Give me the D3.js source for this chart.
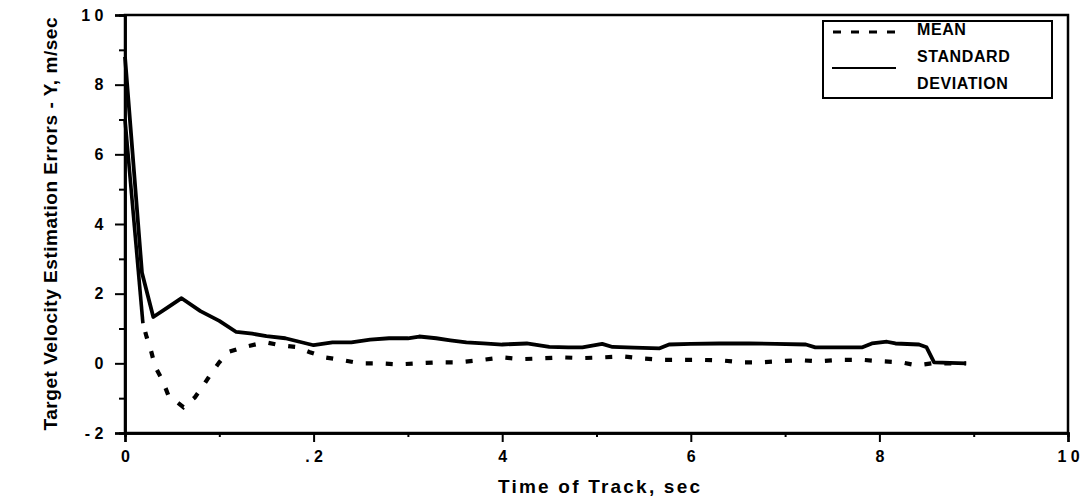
<!DOCTYPE html>
<html>
<head>
<meta charset="utf-8">
<script src="https://cdn.jsdelivr.net/npm/d3@7/dist/d3.min.js"></script>
<style>
  html, body { margin: 0; padding: 0; background: #fff; }
  svg { display: block; }
  text { font-family: "Liberation Sans", Arial, Helvetica, sans-serif; fill: #000; white-space: pre; }
</style>
</head>
<body>
<svg id="chart" width="1091" height="500"></svg>
<script>
// ---- data ----
const stdTime = [0, 0.18, 0.3, 0.45, 0.6, 0.8, 1.0, 1.18, 1.35, 1.5, 1.7, 1.85, 2.0, 2.2, 2.4, 2.6, 2.8, 3.0, 3.12, 3.3, 3.45, 3.62, 3.8, 4.0, 4.26, 4.5, 4.7, 4.85, 5.06, 5.17, 5.4, 5.67, 5.77, 6.0, 6.3, 6.62, 6.9, 7.22, 7.32, 7.6, 7.82, 7.92, 8.08, 8.17, 8.42, 8.5, 8.58, 8.92];
const stdValue = [8.8, 2.6, 1.33, 1.6, 1.87, 1.5, 1.22, 0.9, 0.85, 0.78, 0.72, 0.62, 0.52, 0.6, 0.6, 0.68, 0.72, 0.72, 0.77, 0.72, 0.66, 0.6, 0.57, 0.54, 0.57, 0.47, 0.46, 0.46, 0.56, 0.47, 0.45, 0.43, 0.54, 0.56, 0.57, 0.57, 0.56, 0.54, 0.46, 0.46, 0.46, 0.57, 0.62, 0.57, 0.54, 0.46, 0.03, 0.0];

const meanTime = [0, 0.19, 0.23, 0.28, 0.32, 0.4, 0.46, 0.62, 0.74, 0.83, 0.92, 1.0, 1.09, 1.25, 1.43, 1.5, 1.64, 1.82, 1.96, 2.12, 2.31, 2.49, 2.7, 2.9, 3.1, 3.34, 3.54, 3.76, 4.0, 4.2, 4.4, 4.64, 4.85, 5.06, 5.28, 5.49, 5.7, 5.9, 6.1, 6.34, 6.53, 6.75, 6.94, 7.15, 7.35, 7.6, 7.82, 8.02, 8.23, 8.4, 8.56, 8.92];
const meanValue = [7.0, 1.15, 0.75, 0.32, -0.1, -0.5, -0.92, -1.26, -0.98, -0.64, -0.26, 0.03, 0.32, 0.46, 0.57, 0.6, 0.52, 0.47, 0.32, 0.17, 0.09, 0.0, 0.0, -0.03, 0.0, 0.03, 0.03, 0.09, 0.17, 0.12, 0.14, 0.17, 0.15, 0.17, 0.2, 0.14, 0.1, 0.1, 0.1, 0.08, 0.03, 0.03, 0.06, 0.09, 0.06, 0.1, 0.1, 0.06, 0.03, -0.06, 0.0, 0.0];

const xTickValues = [0, 2, 4, 6, 8, 10];
const xTickLabels = ["0", ". 2", "4", "6", "8", "1 0"];
const xMinorTicks = [1, 3, 5, 7, 9];
const yTickValues = [-2, 0, 2, 4, 6, 8, 10];
const yTickLabels = ["- 2", "0", "2", "4", "6", "8", "1 0"];
const yMinorTicks = [-1, 1, 3, 5, 7, 9];

const legendLabels = ["MEAN", "STANDARD", "DEVIATION"];
const xTitle = "Time of Track, sec";
const yTitle = "Target Velocity Estimation Errors - Y, m/sec";

// ---- layout ----
const svg = d3.select("#chart");
const pLeft = 125, pRight = 1068, pTop = 15, pBottom = 433;

const x = d3.scaleLinear().domain([0, 10]).range([pLeft, pRight]);
const y = d3.scaleLinear().domain([-2, 10]).range([pBottom, pTop]);

// frame
svg.append("rect")
  .attr("x", pLeft).attr("y", pTop)
  .attr("width", pRight - pLeft).attr("height", pBottom - pTop)
  .attr("fill", "none").attr("stroke", "#000").attr("stroke-width", 2.5);

// x axis
const xAxis = svg.append("g").attr("transform", `translate(0,${pBottom})`)
  .call(d3.axisBottom(x).tickValues(xTickValues)
    .tickFormat((d, i) => xTickLabels[i]).tickSize(9).tickPadding(9));
const xMinor = svg.append("g").attr("transform", `translate(0,${pBottom})`)
  .call(d3.axisBottom(x).tickValues(xMinorTicks).tickFormat("").tickSize(4));

// y axis
const yAxis = svg.append("g").attr("transform", `translate(${pLeft},0)`)
  .call(d3.axisLeft(y).tickValues(yTickValues)
    .tickFormat((d, i) => yTickLabels[i]).tickSize(10).tickPadding(10));
const yMinor = svg.append("g").attr("transform", `translate(${pLeft},0)`)
  .call(d3.axisLeft(y).tickValues(yMinorTicks).tickFormat("").tickSize(6));

[xAxis, xMinor, yAxis, yMinor].forEach(g => {
  g.select(".domain").attr("stroke", "#000").attr("stroke-width", 2.5);
  g.selectAll(".tick line").attr("stroke", "#000").attr("stroke-width", 2);
  g.selectAll(".tick text")
    .style("font-family", '"Liberation Sans", Arial, sans-serif')
    .style("font-size", "16px").style("font-weight", "bold")
    .style("white-space", "pre").attr("fill", "#000");
});
yAxis.selectAll(".tick text").attr("dx", "-0.1em");

// titles
svg.append("text")
  .attr("x", 599).attr("y", 493)
  .attr("text-anchor", "middle")
  .attr("textLength", 202).attr("lengthAdjust", "spacing")
  .style("font-size", "19px").style("font-weight", "bold")
  .text(xTitle);

svg.append("text")
  .attr("transform", "translate(57,224) rotate(-90)")
  .attr("text-anchor", "middle")
  .attr("textLength", 413).attr("lengthAdjust", "spacing")
  .style("font-size", "19px").style("font-weight", "bold")
  .text(yTitle);

// lines
const stdData = stdTime.map((t, i) => [t, stdValue[i]]);
const meanData = meanTime.map((t, i) => [t, meanValue[i]]);
const line = d3.line().x(d => x(d[0])).y(d => y(d[1]));

svg.append("path").datum(stdData)
  .attr("d", line).attr("fill", "none")
  .attr("stroke", "#000").attr("stroke-width", 3.8)
  .attr("stroke-linejoin", "round");

// initial steep part of the mean is drawn as a long continuous stroke
svg.append("path").datum(meanData.slice(0, 2))
  .attr("d", line).attr("fill", "none")
  .attr("stroke", "#000").attr("stroke-width", 3.6);
svg.append("path").datum(meanData.slice(1))
  .attr("d", line).attr("fill", "none")
  .attr("stroke", "#000").attr("stroke-width", 4.2)
  .attr("stroke-dasharray", "7,13").attr("stroke-dashoffset", -9);

// legend
const lg = svg.append("g");
lg.append("rect")
  .attr("x", 823).attr("y", 21).attr("width", 229).attr("height", 77)
  .attr("fill", "#fff").attr("stroke", "#000").attr("stroke-width", 2);
lg.append("line")
  .attr("x1", 833).attr("x2", 896).attr("y1", 32).attr("y2", 32)
  .attr("stroke", "#000").attr("stroke-width", 3)
  .attr("stroke-dasharray", "8,10");
lg.append("line")
  .attr("x1", 832).attr("x2", 896).attr("y1", 68).attr("y2", 68)
  .attr("stroke", "#000").attr("stroke-width", 2);
const legendY = [34.5, 62, 89];
lg.selectAll("text.leg").data(legendLabels).enter().append("text")
  .attr("class", "leg")
  .attr("x", 917).attr("y", (d, i) => legendY[i])
  .style("font-size", "16px").style("font-weight", "bold")
  .style("letter-spacing", "0.6px")
  .text(d => d);
</script>
</body>
</html>
